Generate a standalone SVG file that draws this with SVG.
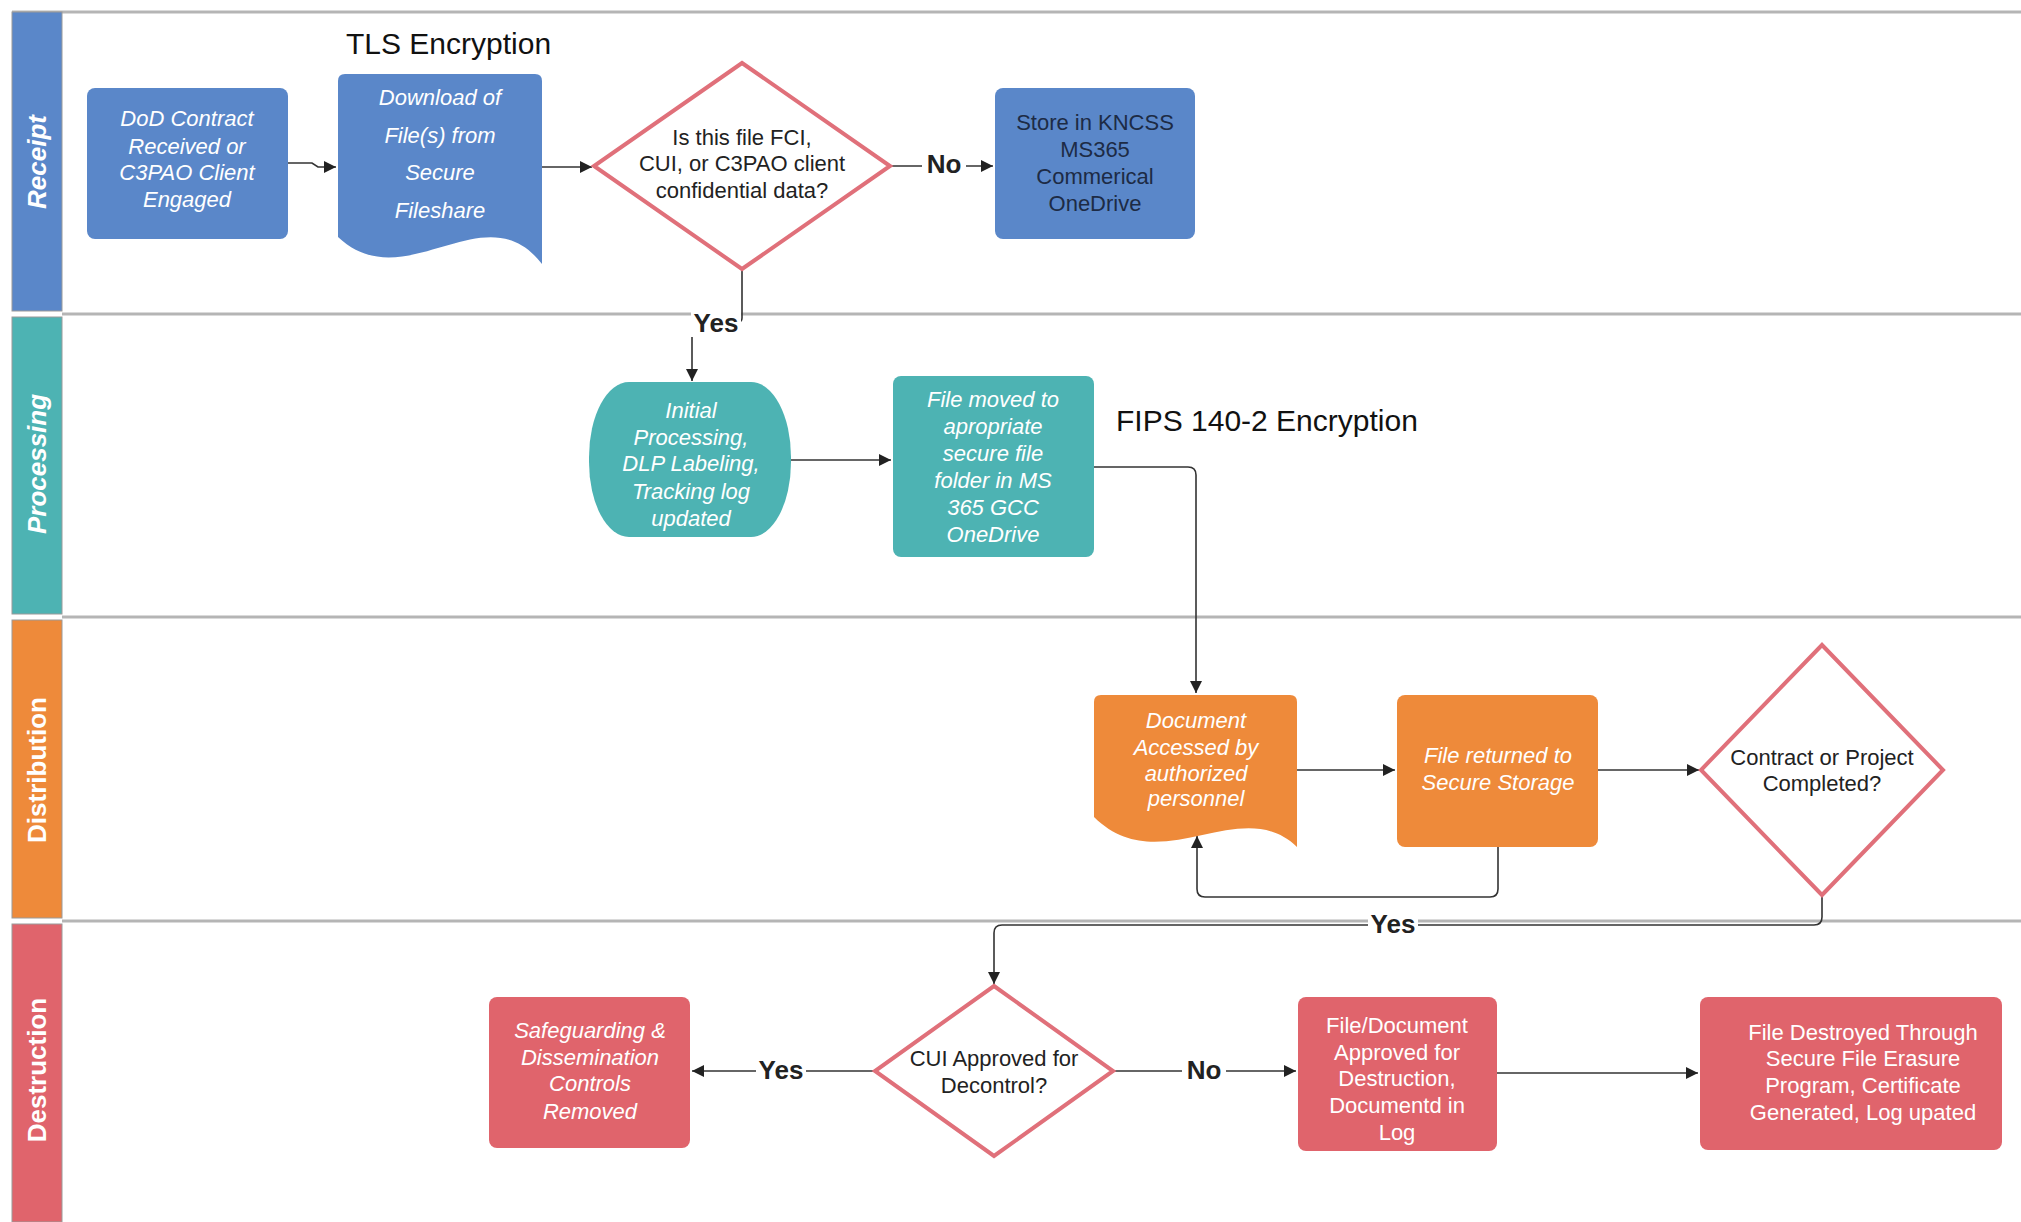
<svg xmlns="http://www.w3.org/2000/svg" width="2021" height="1222" viewBox="0 0 2021 1222">
<style>
.t{font-family:"Liberation Sans",Arial,sans-serif;font-size:22px;text-anchor:middle}
.w{fill:#ffffff}
.i{font-style:italic}
.dk{fill:#222222}
.nv{fill:#1d2b45}
.lane{font-family:"Liberation Sans",Arial,sans-serif;font-size:26px;font-weight:bold;fill:#ffffff;text-anchor:middle}
.c{fill:none;stroke:#333333;stroke-width:1.6}
.lbl{font-family:"Liberation Sans",Arial,sans-serif;font-size:26px;font-weight:bold;fill:#222222;text-anchor:middle}
.big{font-family:"Liberation Sans",Arial,sans-serif;font-size:30px;fill:#111111}
.dia{fill:#ffffff;stroke:#e0707a;stroke-width:4}
.div{stroke:#b5b5b5;stroke-width:3}
.bar{stroke:#9a9a9a;stroke-width:1}
.blue{fill:#5a87c9}
.teal{fill:#4db3b3}
.orange{fill:#ee8a3a}
.red{fill:#e0646c}
</style>
<defs>
<marker id="a" viewBox="0 0 10 10" refX="10" refY="5" markerUnits="userSpaceOnUse" markerWidth="15" markerHeight="12" orient="auto">
<path d="M0,0 L10,5 L0,10 z" fill="#222222"/>
</marker>
</defs>
<rect width="2021" height="1222" fill="#ffffff"/>

<g id="lanes">
<line class="div" x1="12" y1="12" x2="2021" y2="12"/>
<line class="div" x1="62" y1="314" x2="2021" y2="314"/>
<line class="div" x1="62" y1="617" x2="2021" y2="617"/>
<line class="div" x1="62" y1="921" x2="2021" y2="921"/>
<rect class="bar blue" x="12" y="12" width="50" height="299"/>
<rect class="bar teal" x="12" y="317" width="50" height="297"/>
<rect class="bar orange" x="12" y="620" width="50" height="298"/>
<rect class="bar red" x="12" y="924" width="50" height="298"/>
<text class="lane i" transform="translate(37,162) rotate(-90)" y="9">Receipt</text>
<text class="lane i" transform="translate(37,464) rotate(-90)" y="9">Processing</text>
<text class="lane" transform="translate(37,770) rotate(-90)" y="9">Distribution</text>
<text class="lane" transform="translate(37,1070) rotate(-90)" y="9">Destruction</text>
</g>

<g id="annotations">
<text class="big" x="346" y="54">TLS Encryption</text>
<text class="big" x="1116" y="431">FIPS 140-2 Encryption</text>
</g>

<g id="connectors">
<path class="c" d="M288,163 H312 L318,167 H336" marker-end="url(#a)"/>
<path class="c" d="M542,167 H592" marker-end="url(#a)"/>
<path class="c" d="M890,166 H993" marker-end="url(#a)"/>
<path class="c" d="M742,269 V318 Q742,322 738,322 H696 Q692,322 692,326 V381" marker-end="url(#a)"/>
<path class="c" d="M791,460 H891" marker-end="url(#a)"/>
<path class="c" d="M1094,467 H1188 Q1196,467 1196,475 V693" marker-end="url(#a)"/>
<path class="c" d="M1297,770 H1395" marker-end="url(#a)"/>
<path class="c" d="M1598,770 H1699" marker-end="url(#a)"/>
<path class="c" d="M1498,847 V889 Q1498,897 1490,897 H1205 Q1197,897 1197,889 V836" marker-end="url(#a)"/>
<path class="c" d="M1822,895 V917 Q1822,925 1814,925 H1002 Q994,925 994,933 V984" marker-end="url(#a)"/>
<path class="c" d="M875,1071 H692" marker-end="url(#a)"/>
<path class="c" d="M1113,1071 H1296" marker-end="url(#a)"/>
<path class="c" d="M1497,1073 H1698" marker-end="url(#a)"/>
<rect x="922" y="150" width="44" height="28" fill="#ffffff"/>
<text class="lbl" x="944" y="173">No</text>
<rect x="691" y="309" width="50" height="28" fill="#ffffff"/>
<text class="lbl" x="716" y="332">Yes</text>
<rect x="1368" y="910" width="50" height="28" fill="#ffffff"/>
<text class="lbl" x="1393" y="933">Yes</text>
<rect x="756" y="1056" width="50" height="28" fill="#ffffff"/>
<text class="lbl" x="781" y="1079">Yes</text>
<rect x="1182" y="1056" width="44" height="28" fill="#ffffff"/>
<text class="lbl" x="1204" y="1079">No</text>
</g>

<g id="n-dod">
<rect class="blue" x="87" y="88" width="201" height="151" rx="8"/>
<text class="t w i" x="187" y="126">DoD Contract</text>
<text class="t w i" x="187" y="154">Received or</text>
<text class="t w i" x="187" y="180">C3PAO Client</text>
<text class="t w i" x="187" y="207">Engaged</text>
</g>

<g id="n-download">
<path class="blue" d="M338,81 Q338,74 345,74 H535 Q542,74 542,81 V264 C485,190 405,300 338,237 Z"/>
<text class="t w i" x="440" y="105">Download of</text>
<text class="t w i" x="440" y="143">File(s) from</text>
<text class="t w i" x="440" y="180">Secure</text>
<text class="t w i" x="440" y="218">Fileshare</text>
</g>

<g id="n-decision1">
<polygon class="dia" points="742,63 890,166 742,269 594,166"/>
<text class="t dk" x="742" y="145">Is this file FCI,</text>
<text class="t dk" x="742" y="171">CUI, or C3PAO client</text>
<text class="t dk" x="742" y="198">confidential data?</text>
</g>

<g id="n-store">
<rect class="blue" x="995" y="88" width="200" height="151" rx="8"/>
<text class="t nv" x="1095" y="130">Store in KNCSS</text>
<text class="t nv" x="1095" y="157">MS365</text>
<text class="t nv" x="1095" y="184">Commerical</text>
<text class="t nv" x="1095" y="211">OneDrive</text>
</g>

<g id="n-initial">
<rect class="teal" x="589" y="382" width="202" height="155" rx="40" ry="75"/>
<text class="t w i" x="691" y="418">Initial</text>
<text class="t w i" x="691" y="445">Processing,</text>
<text class="t w i" x="691" y="471">DLP Labeling,</text>
<text class="t w i" x="691" y="499">Tracking log</text>
<text class="t w i" x="691" y="526">updated</text>
</g>

<g id="n-moved">
<rect class="teal" x="893" y="376" width="201" height="181" rx="8"/>
<text class="t w i" x="993" y="407">File moved to</text>
<text class="t w i" x="993" y="434">apropriate</text>
<text class="t w i" x="993" y="461">secure file</text>
<text class="t w i" x="993" y="488">folder in MS</text>
<text class="t w i" x="993" y="515">365 GCC</text>
<text class="t w i" x="993" y="542">OneDrive</text>
</g>

<g id="n-accessed">
<path class="orange" d="M1094,702 Q1094,695 1101,695 H1290 Q1297,695 1297,702 V847 C1240,792 1160,882 1094,817 Z"/>
<text class="t w i" x="1196" y="728">Document</text>
<text class="t w i" x="1196" y="755">Accessed by</text>
<text class="t w i" x="1196" y="781">authorized</text>
<text class="t w i" x="1196" y="806">personnel</text>
</g>

<g id="n-returned">
<rect class="orange" x="1397" y="695" width="201" height="152" rx="8"/>
<text class="t w i" x="1498" y="763">File returned to</text>
<text class="t w i" x="1498" y="790">Secure Storage</text>
</g>

<g id="n-decision2">
<polygon class="dia" points="1822,645 1943,770 1822,895 1701,770"/>
<text class="t dk" x="1822" y="765">Contract or Project</text>
<text class="t dk" x="1822" y="791">Completed?</text>
</g>

<g id="n-safeguarding">
<rect class="red" x="489" y="997" width="201" height="151" rx="8"/>
<text class="t w i" x="590" y="1038">Safeguarding &amp;</text>
<text class="t w i" x="590" y="1065">Dissemination</text>
<text class="t w i" x="590" y="1091">Controls</text>
<text class="t w i" x="590" y="1119">Removed</text>
</g>

<g id="n-decision3">
<polygon class="dia" points="994,986 1113,1071 994,1156 875,1071"/>
<text class="t dk" x="994" y="1066">CUI Approved for</text>
<text class="t dk" x="994" y="1093">Decontrol?</text>
</g>

<g id="n-approved">
<rect class="red" x="1298" y="997" width="199" height="154" rx="8"/>
<text class="t w" x="1397" y="1033">File/Document</text>
<text class="t w" x="1397" y="1060">Approved for</text>
<text class="t w" x="1397" y="1086">Destruction,</text>
<text class="t w" x="1397" y="1113">Documentd in</text>
<text class="t w" x="1397" y="1140">Log</text>
</g>

<g id="n-destroyed">
<rect class="red" x="1700" y="997" width="302" height="153" rx="8"/>
<text class="t w" x="1863" y="1040">File Destroyed Through</text>
<text class="t w" x="1863" y="1066">Secure File Erasure</text>
<text class="t w" x="1863" y="1093">Program, Certificate</text>
<text class="t w" x="1863" y="1120">Generated, Log upated</text>
</g>
</svg>
